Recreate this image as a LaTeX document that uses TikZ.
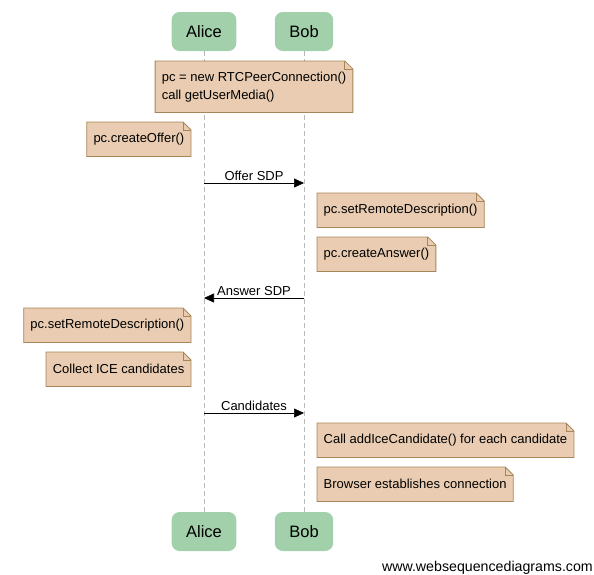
\documentclass[tikz,border=0pt]{standalone}
\usepackage{fontspec}
\setmainfont{Liberation Sans}
\usetikzlibrary{arrows.meta,backgrounds}
\definecolor{headfill}{RGB}{162,208,170}
\definecolor{notefill}{RGB}{233,204,177}
\definecolor{noteline}{RGB}{166,134,88}
\definecolor{lifegray}{RGB}{185,185,185}
% dog-eared outline behind a note node
\newcommand\notecard[1]{%
  \begin{pgfonlayer}{background}
    \draw[noteline, line width=0.8pt, fill=notefill] (#1.north west) -- ([xshift=-8pt]#1.north east)
      -- ([yshift=-8pt]#1.north east) -- (#1.south east) -- (#1.south west) -- cycle;
    \draw[noteline, line width=0.8pt] ([xshift=-8pt]#1.north east) |- ([yshift=-8pt]#1.north east);
  \end{pgfonlayer}}
\begin{document}
\begin{tikzpicture}[
        x=1pt, y=-1pt,
        head/.style={fill=headfill, rounded corners=8pt, font=\fontsize{16.5}{18}\selectfont,
            inner xsep=14.5pt, minimum height=39pt},
        notebox/.style={font=\fontsize{13}{18}\selectfont, inner xsep=6.5pt,
            minimum height=34pt, align=left},
        lifeline/.style={draw=lifegray, dash pattern=on 5pt off 3pt},
        msg/.style={-{Triangle[length=10pt,width=9pt]}, semithick},
        msglabel/.style={font=\fontsize{13}{15}\selectfont, above, inner sep=2pt}
    ]
    \useasboundingbox (0,0) rectangle (594,574);
    % participants
    \foreach \who/\name/\x in {alice/Alice/204, bob/Bob/304} {
        \node[head] (\who top) at (\x,31.5) {\name};
        \node[head] (\who bot) at (\x,531.5) {\name};
    }
    \begin{scope}[on background layer]
        \draw[lifeline] (alicetop) -- (alicebot);
        \draw[lifeline] (bobtop) -- (bobbot);
    \end{scope}

    % notes
    \node[notebox, anchor=north, minimum height=51pt] (setup) at (254,61)
        {pc = new RTCPeerConnection()\\call getUserMedia()};
    \node[notebox, anchor=north east] (offer) at (191,122) {pc.createOffer()};
    \node[notebox, anchor=north west] (bobremote) at (317,193) {pc.setRemoteDescription()};
    \node[notebox, anchor=north west] (answer) at (317,237) {pc.createAnswer()};
    \node[notebox, anchor=north east] (aliceremote) at (191,308) {pc.setRemoteDescription()};
    \node[notebox, anchor=north east] (collect) at (191,352) {Collect ICE candidates};
    \node[notebox, anchor=north west] (addice) at (317,423) {Call addIceCandidate() for each candidate};
    \node[notebox, anchor=north west] (connect) at (317,467) {Browser establishes connection};
    \foreach \n in {setup,offer,bobremote,answer,aliceremote,collect,addice,connect}
        \notecard{\n};

    % messages
    \coordinate (offerA) at (204,183);
    \coordinate (offerB) at (304,183);
    \coordinate (answerA) at (204,298);
    \coordinate (answerB) at (304,298);
    \coordinate (candA) at (204,413);
    \coordinate (candB) at (304,413);
    \draw[msg] (offerA) -- node[msglabel] {Offer SDP} (offerB);
    \draw[msg] (answerB) -- node[msglabel] {Answer SDP} (answerA);
    \draw[msg] (candA) -- node[msglabel] {Candidates} (candB);

    \node[font=\fontsize{14.2}{16}\selectfont, anchor=base east, inner sep=0pt] (credit) at (593,571)
        {www.websequencediagrams.com};
\end{tikzpicture}
\end{document}
